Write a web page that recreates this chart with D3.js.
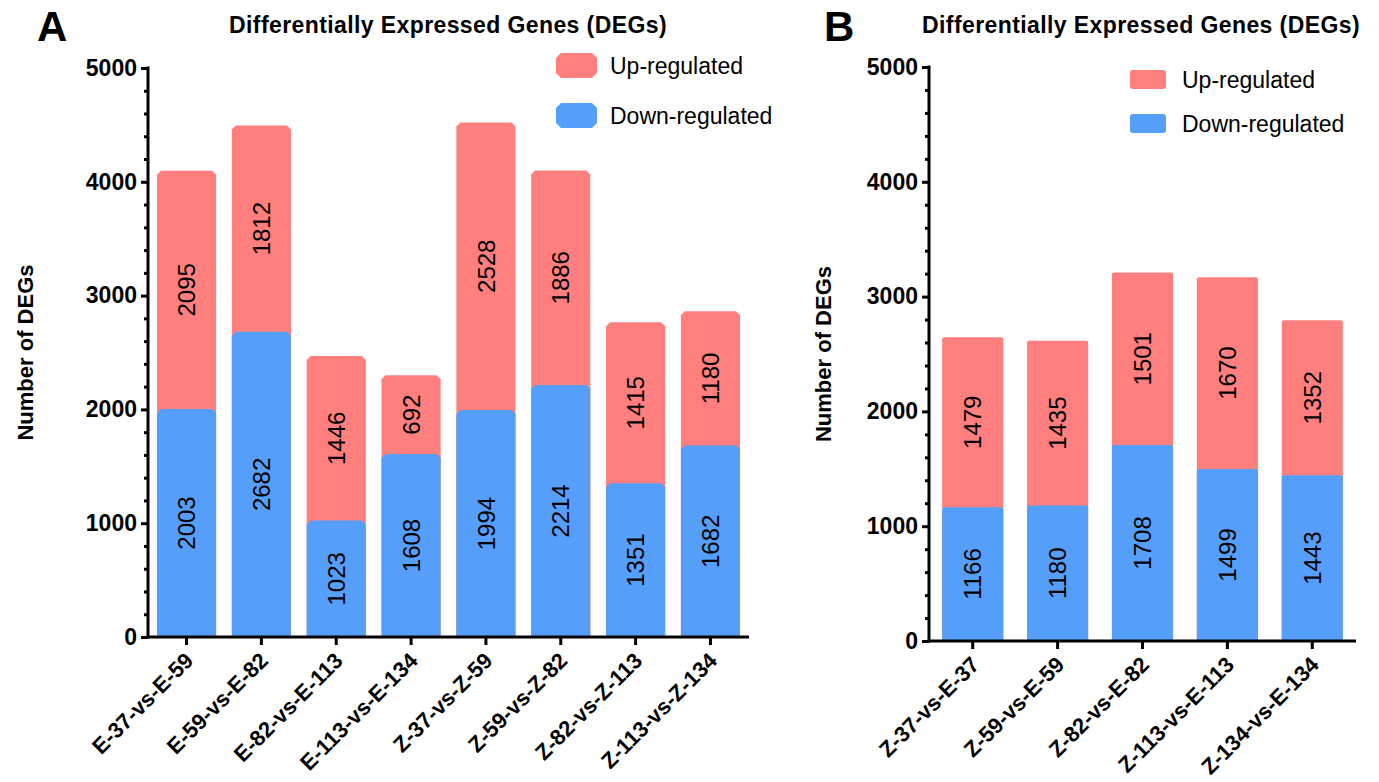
<!DOCTYPE html>
<html>
<head>
<meta charset="utf-8">
<script src="https://cdn.jsdelivr.net/npm/d3@7"></script>
<style>
  body { margin: 0; background: #fff; }
  svg text { font-family: "Liberation Sans", Arial, Helvetica, sans-serif; fill: #000; }
  .axis path, .axis line { stroke: #000; stroke-width: 3; }
</style>
</head>
<body>
<svg id="chart" width="1379" height="782"></svg>
<script>
// panel A data
const groupsA = ["E-37-vs-E-59", "E-59-vs-E-82", "E-82-vs-E-113", "E-113-vs-E-134",
                 "Z-37-vs-Z-59", "Z-59-vs-Z-82", "Z-82-vs-Z-113", "Z-113-vs-Z-134"];
const downA = [2003, 2682, 1023, 1608, 1994, 2214, 1351, 1682];
const upA   = [2095, 1812, 1446, 692, 2528, 1886, 1415, 1180];

// panel B data
const groupsB = ["Z-37-vs-E-37", "Z-59-vs-E-59", "Z-82-vs-E-82", "Z-113-vs-E-113", "Z-134-vs-E-134"];
const downB = [1166, 1180, 1708, 1499, 1443];
const upB   = [1479, 1435, 1501, 1670, 1352];

const yMajor = [0, 1000, 2000, 3000, 4000, 5000];
const seriesNames = ["Up-regulated", "Down-regulated"];

const RED = "#ff7f7f", BLUE = "#559ffa";

const svg = d3.select("#chart");

// chamfered top (panel A) or slightly rounded top (panel B)
function barPath(x, w, yb, yt, c, round) {
  if (round) {
    return `M${x},${yb}L${x},${yt + c}Q${x},${yt} ${x + c},${yt}L${x + w - c},${yt}` +
           `Q${x + w},${yt} ${x + w},${yt + c}L${x + w},${yb}Z`;
  }
  return `M${x},${yb}L${x},${yt + c}L${x + c},${yt}L${x + w - c},${yt}L${x + w},${yt + c}L${x + w},${yb}Z`;
}

function panel(opts) {
  const g = svg.append("g");
  const y = d3.scaleLinear().domain([0, 5000]).range([opts.y0, opts.y1]);
  const x = d3.scaleBand().domain(opts.groups).range([opts.x0, opts.x1])
    .paddingInner(opts.pi).paddingOuter(opts.po);

  const rows = opts.groups.map((k, i) => ({ k, down: opts.down[i], up: opts.up[i] }));

  // up segment: full bar drawn behind, down segment drawn on top
  g.append("g").selectAll("path")
    .data(rows).enter().append("path")
    .attr("fill", RED)
    .attr("d", d => barPath(x(d.k), x.bandwidth(), y(0), y(d.down + d.up), opts.c, opts.round));

  g.append("g").selectAll("path")
    .data(rows).enter().append("path")
    .attr("fill", BLUE)
    .attr("d", d => barPath(x(d.k), x.bandwidth(), y(0), y(d.down), opts.c, opts.round));

  // value labels
  const lab = g.append("g").attr("font-size", "24px");
  lab.selectAll("text.dn").data(rows).enter().append("text")
    .attr("transform", d => `translate(${x(d.k) + x.bandwidth() / 2},${(y(0) + y(d.down)) / 2}) rotate(-90)`)
    .attr("text-anchor", "middle").attr("dy", "0.36em")
    .text(d => d.down);
  lab.selectAll("text.up").data(rows).enter().append("text")
    .attr("transform", d => `translate(${x(d.k) + x.bandwidth() / 2},${(y(d.down) + y(d.down + d.up)) / 2}) rotate(-90)`)
    .attr("text-anchor", "middle").attr("dy", "0.36em")
    .text(d => d.up);

  // y axis: minor ticks then major
  const minor = d3.range(0, 5001, 200).filter(v => v % 1000 !== 0);
  g.append("g").attr("class", "axis")
    .attr("transform", `translate(${opts.x0},0)`)
    .call(d3.axisLeft(y).tickValues(minor).tickSize(4).tickSizeOuter(0).tickFormat(""))
    .call(a => a.select(".domain").remove());
  const ya = g.append("g").attr("class", "axis")
    .attr("transform", `translate(${opts.x0},0)`)
    .call(d3.axisLeft(y).tickValues(yMajor).tickSize(7).tickSizeOuter(0).tickPadding(4)
      .tickFormat(d3.format("d")));
  ya.selectAll("text").attr("font-size", "23px").attr("font-weight", "bold")
    .attr("font-family", "Liberation Sans, Arial, sans-serif").attr("fill", "#000");
  ya.select(".domain").attr("d", `M0,${y(0) + 1.5}V${y(5000) - 1.5}`);

  // x axis
  const xa = g.append("g").attr("class", "axis")
    .attr("transform", `translate(0,${opts.y0})`)
    .call(d3.axisBottom(x).tickSize(8).tickSizeOuter(0).tickFormat(""));
  xa.select(".domain").attr("d", `M${opts.x0 - 1.5},0H${opts.x1}`);

  g.append("g").attr("font-size", "22px").attr("font-weight", "bold")
    .selectAll("text").data(opts.groups).enter().append("text")
    .attr("text-anchor", "end")
    .attr("transform", d => `translate(${x(d) + x.bandwidth() / 2 + 8},${opts.y0 + 25}) rotate(-45)`)
    .text(d => d);

  // y title
  g.append("text")
    .attr("transform", `translate(${opts.ytx},${(opts.y0 + opts.y1) / 2}) rotate(-90)`)
    .attr("text-anchor", "middle").attr("font-size", "22px").attr("font-weight", "bold")
    .text("Number of DEGs");

  // title and panel letter
  g.append("text").attr("x", opts.tx).attr("y", 33)
    .attr("text-anchor", "middle").attr("font-size", "23px").attr("font-weight", "bold")
    .attr("letter-spacing", "0.4px")
    .text("Differentially Expressed Genes (DEGs)");
  g.append("text").attr("x", opts.lx).attr("y", 41)
    .attr("font-size", "42px").attr("font-weight", "bold")
    .text(opts.letter);

  // legend
  const lg = g.append("g");
  seriesNames.forEach((s, i) => {
    const ly = opts.legY[i];
    const lx = opts.legX, w = opts.legW, h = opts.legH;
    if (!opts.round) {
      lg.append("path").attr("fill", i === 0 ? RED : BLUE)
        .attr("d", `M${lx + 5},${ly}H${lx + w - 5}L${lx + w},${ly + 5}V${ly + h - 5}` +
          `L${lx + w - 5},${ly + h}H${lx + 5}L${lx},${ly + h - 5}V${ly + 5}Z`);
    } else {
      lg.append("rect").attr("fill", i === 0 ? RED : BLUE)
        .attr("x", lx).attr("y", ly).attr("width", w).attr("height", h).attr("rx", 3);
    }
    lg.append("text").attr("x", opts.legTx).attr("y", ly + h / 2)
      .attr("dy", "0.36em").attr("font-size", "23px").text(s);
  });
}

panel({
  groups: groupsA, down: downA, up: upA,
  x0: 148, x1: 749, y0: 637, y1: 68, pi: 0.21, po: 0.12,
  c: 4, round: false, ytx: 33, tx: 448, lx: 37, letter: "A",
  legX: 556, legW: 41, legH: 25, legY: [53, 103], legTx: 610
});

panel({
  groups: groupsB, down: downB, up: upB,
  x0: 929, x1: 1356, y0: 641, y1: 67, pi: 0.28, po: 0.155,
  c: 2, round: true, ytx: 831, tx: 1141, lx: 824, letter: "B",
  legX: 1130, legW: 36, legH: 19, legY: [70, 114], legTx: 1182
});
</script>
</body>
</html>
